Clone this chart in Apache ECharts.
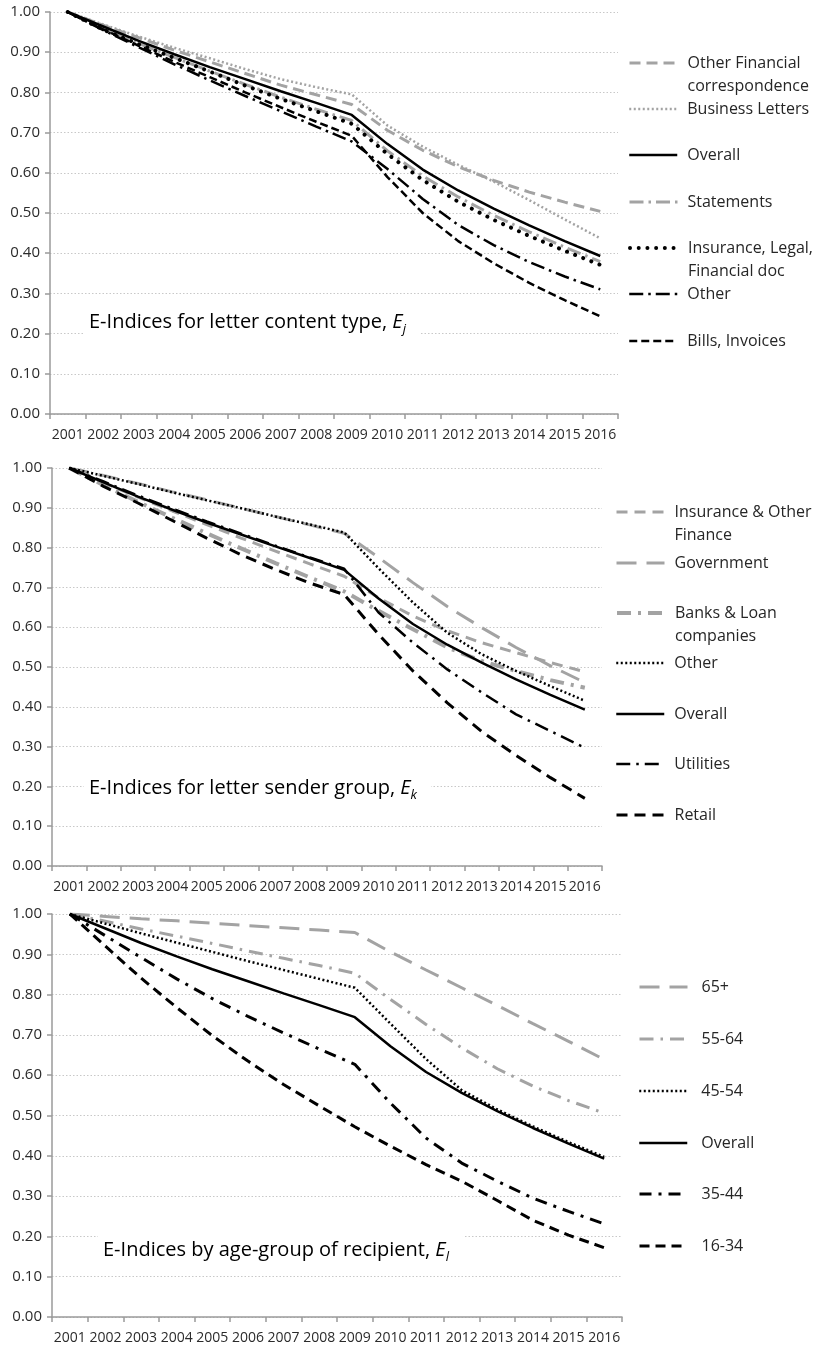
<!DOCTYPE html>
<html>
<head>
<meta charset="utf-8">
<script src="https://cdn.jsdelivr.net/npm/echarts@6/dist/echarts.min.js"></script>
<style>
html, body { margin: 0; padding: 0; background: #fff; }
#chart { width: 813px; height: 1350px; }
</style>
</head>
<body>
<div id="chart"></div>
<script>
// years on the x axis
var years = ['2001', '2002', '2003', '2004', '2005', '2006', '2007', '2008',
	'2009', '2010', '2011', '2012', '2013', '2014', '2015', '2016'];

// overall e-index (same line in all three panels)
var overall = [1.00, 0.964, 0.928, 0.895, 0.863, 0.833, 0.803, 0.774, 0.744, 0.672, 0.608, 0.556, 0.511, 0.469, 0.430, 0.393];

// panel 1 - letter content type
var contentOtherFinancial = [1.00, 0.967, 0.936, 0.905, 0.876, 0.847, 0.818, 0.794, 0.770, 0.706, 0.656, 0.615, 0.581, 0.552, 0.527, 0.504];
var contentBusiness = [1.00, 0.969, 0.939, 0.911, 0.885, 0.858, 0.833, 0.813, 0.795, 0.718, 0.665, 0.620, 0.578, 0.532, 0.484, 0.437];
var contentStatements = [1.00, 0.960, 0.922, 0.887, 0.853, 0.820, 0.788, 0.758, 0.730, 0.655, 0.592, 0.540, 0.494, 0.453, 0.415, 0.379];
var contentInsurance = [1.00, 0.956, 0.920, 0.886, 0.852, 0.817, 0.784, 0.753, 0.722, 0.647, 0.582, 0.528, 0.483, 0.443, 0.406, 0.371];
var contentOther = [1.00, 0.955, 0.912, 0.870, 0.830, 0.791, 0.753, 0.715, 0.678, 0.610, 0.535, 0.470, 0.420, 0.378, 0.342, 0.310];
var contentBills = [1.00, 0.957, 0.916, 0.876, 0.838, 0.800, 0.763, 0.727, 0.692, 0.590, 0.500, 0.430, 0.375, 0.326, 0.283, 0.243];

// panel 2 - letter sender group
var senderInsurance = [1.00, 0.963, 0.927, 0.892, 0.858, 0.824, 0.791, 0.759, 0.728, 0.674, 0.628, 0.591, 0.561, 0.536, 0.511, 0.488];
var senderGovernment = [1.00, 0.981, 0.961, 0.940, 0.920, 0.899, 0.878, 0.857, 0.836, 0.775, 0.712, 0.652, 0.599, 0.549, 0.503, 0.461];
var senderBanks = [1.00, 0.957, 0.915, 0.875, 0.836, 0.798, 0.761, 0.725, 0.690, 0.641, 0.595, 0.549, 0.515, 0.490, 0.467, 0.448];
var senderOther = [1.00, 0.980, 0.960, 0.939, 0.919, 0.899, 0.878, 0.858, 0.838, 0.748, 0.662, 0.586, 0.532, 0.490, 0.452, 0.415];
var senderUtilities = [1.00, 0.966, 0.931, 0.898, 0.866, 0.835, 0.805, 0.775, 0.747, 0.637, 0.561, 0.494, 0.436, 0.381, 0.339, 0.297];
var senderRetail = [1.00, 0.954, 0.912, 0.868, 0.824, 0.782, 0.745, 0.711, 0.682, 0.582, 0.490, 0.410, 0.338, 0.278, 0.222, 0.170];

// panel 3 - age group of recipient
var age65 = [1.00, 0.994, 0.988, 0.983, 0.977, 0.971, 0.966, 0.960, 0.954, 0.906, 0.861, 0.817, 0.773, 0.728, 0.684, 0.639];
var age55 = [1.00, 0.982, 0.963, 0.945, 0.927, 0.908, 0.890, 0.872, 0.853, 0.788, 0.726, 0.668, 0.616, 0.573, 0.537, 0.506];
var age45 = [1.00, 0.976, 0.952, 0.929, 0.906, 0.883, 0.861, 0.839, 0.817, 0.728, 0.640, 0.563, 0.515, 0.473, 0.434, 0.397];
var age35 = [1.00, 0.946, 0.892, 0.839, 0.790, 0.746, 0.705, 0.665, 0.627, 0.531, 0.444, 0.382, 0.337, 0.295, 0.262, 0.231];
var age16 = [1.00, 0.920, 0.841, 0.768, 0.698, 0.635, 0.577, 0.524, 0.472, 0.424, 0.378, 0.337, 0.289, 0.240, 0.203, 0.172];

var FONT = 'Open Sans';
var GRAY = '#a3a3a3';
var BLACK = '#000';
var LH = 23;

var panels = [{
	grid : { left : 50, top : 12, width : 568, height : 402 },
	legendLeft : 628, textGap : 5,
	title : 'E-Indices for letter content type, ', sub : 'j', titleX : 84, titleY : 322,
	items : [
		{ label : 'Other Financial\ncorrespondence', data : contentOtherFinancial, color : GRAY, width : 3, dash : [11, 6], y : 63 },
		{ label : 'Business Letters', data : contentBusiness, color : GRAY, width : 2.5, dash : [2, 2.5], y : 109 },
		{ label : 'Overall', data : overall, color : BLACK, width : 2.5, dash : 'solid', y : 155 },
		{ label : 'Statements', data : contentStatements, color : GRAY, width : 3, dash : [14, 5, 2.5, 5], y : 202 },
		{ label : 'Insurance, Legal,\nFinancial doc', data : contentInsurance, color : BLACK, width : 4, dash : [0.01, 8.7], cap : 'round', y : 248 },
		{ label : 'Other', data : contentOther, color : BLACK, width : 2.5, dash : [14, 5, 2.5, 5], y : 294 },
		{ label : 'Bills, Invoices', data : contentBills, color : BLACK, width : 2.5, dash : [8, 4], y : 341 }
	]
}, {
	grid : { left : 52, top : 468, width : 550, height : 398 },
	legendLeft : 615, textGap : 5,
	title : 'E-Indices for letter sender group, ', sub : 'k', titleX : 84, titleY : 788,
	items : [
		{ label : 'Insurance & Other\nFinance', data : senderInsurance, color : GRAY, width : 3, dash : [11, 7], y : 512 },
		{ label : 'Government', data : senderGovernment, color : GRAY, width : 3, dash : [20, 10], y : 563 },
		{ label : 'Banks & Loan\ncompanies', data : senderBanks, color : GRAY, width : 4, dash : [14, 7, 3, 7], y : 613 },
		{ label : 'Other', data : senderOther, color : BLACK, width : 2.5, dash : [2, 2.5], y : 663 },
		{ label : 'Overall', data : overall, color : BLACK, width : 2.5, dash : 'solid', y : 714 },
		{ label : 'Utilities', data : senderUtilities, color : BLACK, width : 2.5, dash : [14, 6, 2.5, 6], y : 764 },
		{ label : 'Retail', data : senderRetail, color : BLACK, width : 3, dash : [11, 7], y : 815 }
	]
}, {
	grid : { left : 52, top : 914, width : 570, height : 403 },
	legendLeft : 638, textGap : 9,
	title : 'E-Indices by age-group of recipient, ', sub : 'l', titleX : 98, titleY : 1250,
	items : [
		{ label : '65+', data : age65, color : GRAY, width : 3, dash : [20, 10], y : 987 },
		{ label : '55-64', data : age55, color : GRAY, width : 3, dash : [14, 7, 2.5, 7], y : 1039 },
		{ label : '45-54', data : age45, color : BLACK, width : 2.5, dash : [2, 2.5], y : 1091 },
		{ label : 'Overall', data : overall, color : BLACK, width : 2.5, dash : 'solid', y : 1143 },
		{ label : '35-44', data : age35, color : BLACK, width : 3, dash : [12, 7, 3, 7], y : 1194 },
		{ label : '16-34', data : age16, color : BLACK, width : 3, dash : [10, 6], y : 1246 }
	]
} ];

var grids = [], xAxes = [], yAxes = [], series = [], legends = [], graphics = [];
var legendText = {};

panels.forEach(function(p, pi) {
	grids.push(p.grid);
	xAxes.push({
		type : 'category',
		gridIndex : pi,
		data : years,
		boundaryGap : true,
		axisLine : { lineStyle : { color : '#9a9a9a', width : 1.5 } },
		axisTick : { show : true, length : 5, lineStyle : { color : '#9a9a9a', width : 1.5 } },
		axisLabel : { interval : 0, margin : 14, color : '#2b2b2b', fontFamily : FONT, fontSize : 14 },
		splitLine : { show : false }
	});
	yAxes.push({
		type : 'value',
		gridIndex : pi,
		min : 0,
		max : 1,
		interval : 0.1,
		axisLine : { show : true, lineStyle : { color : '#9a9a9a', width : 1.5 } },
		axisTick : { show : true, length : 5, lineStyle : { color : '#9a9a9a', width : 1.5 } },
		axisLabel : {
			margin : 10, color : '#2b2b2b', fontFamily : FONT, fontSize : 15,
			formatter : function(v) { return v.toFixed(2); }
		},
		splitLine : { show : true, lineStyle : { color : '#c8c8c8', width : 1, type : [1.5, 2] } }
	});

	p.items.forEach(function(it, ii) {
		var name = 'p' + pi + '_' + ii;
		var nLines = it.label.split('\n').length;
		legendText[name] = nLines > 1 ? '\n' + it.label : it.label;
		series.push({
			name : name,
			type : 'line',
			xAxisIndex : pi,
			yAxisIndex : pi,
			data : it.data,
			symbol : 'none',
			smooth : false,
			z : it.color == GRAY ? 2 : 3,
			lineStyle : { color : it.color, width : it.width, type : it.dash, cap : it.cap || 'butt' },
			itemStyle : { color : it.color }
		});
		var boxLines = nLines > 1 ? nLines + 1 : 1;
		legends.push({
			data : [ name ],
			orient : 'vertical',
			left : p.legendLeft,
			top : it.y - boxLines * LH / 2,
			padding : 0,
			itemWidth : 48,
			itemHeight : 14,
			selectedMode : false,
			formatter : function(n) { return legendText[n]; },
			itemStyle : { opacity : 0 },
			lineStyle : { width : 'inherit' },
			textStyle : { fontFamily : FONT, fontSize : 16, color : '#262626', lineHeight : LH, padding : [ 0, 0, 0, p.textGap ] }
		});
	});

	graphics.push({
		type : 'text',
		left : p.titleX,
		top : p.titleY - 17,
		z : 50,
		style : {
			text : '{t|' + p.title + '}{e|E}{s|' + p.sub + '}',
			backgroundColor : '#fff',
			padding : [ 3, 14, 3, 5 ],
			rich : {
				t : { fontFamily : FONT, fontSize : 20, color : '#262626', lineHeight : 28, verticalAlign : 'middle' },
				e : { fontFamily : FONT, fontSize : 20, fontStyle : 'italic', color : '#262626', lineHeight : 28, verticalAlign : 'middle' },
				s : { fontFamily : FONT, fontSize : 13, fontStyle : 'italic', color : '#262626', lineHeight : 13, verticalAlign : 'bottom' }
			}
		}
	});
});

var chart = echarts.init(document.getElementById('chart'));
chart.setOption({
	animation : false,
	backgroundColor : '#fff',
	grid : grids,
	xAxis : xAxes,
	yAxis : yAxes,
	legend : legends,
	graphic : graphics,
	series : series
});

window.onresize = function() {
	chart.resize();
};
</script>
</body>
</html>
